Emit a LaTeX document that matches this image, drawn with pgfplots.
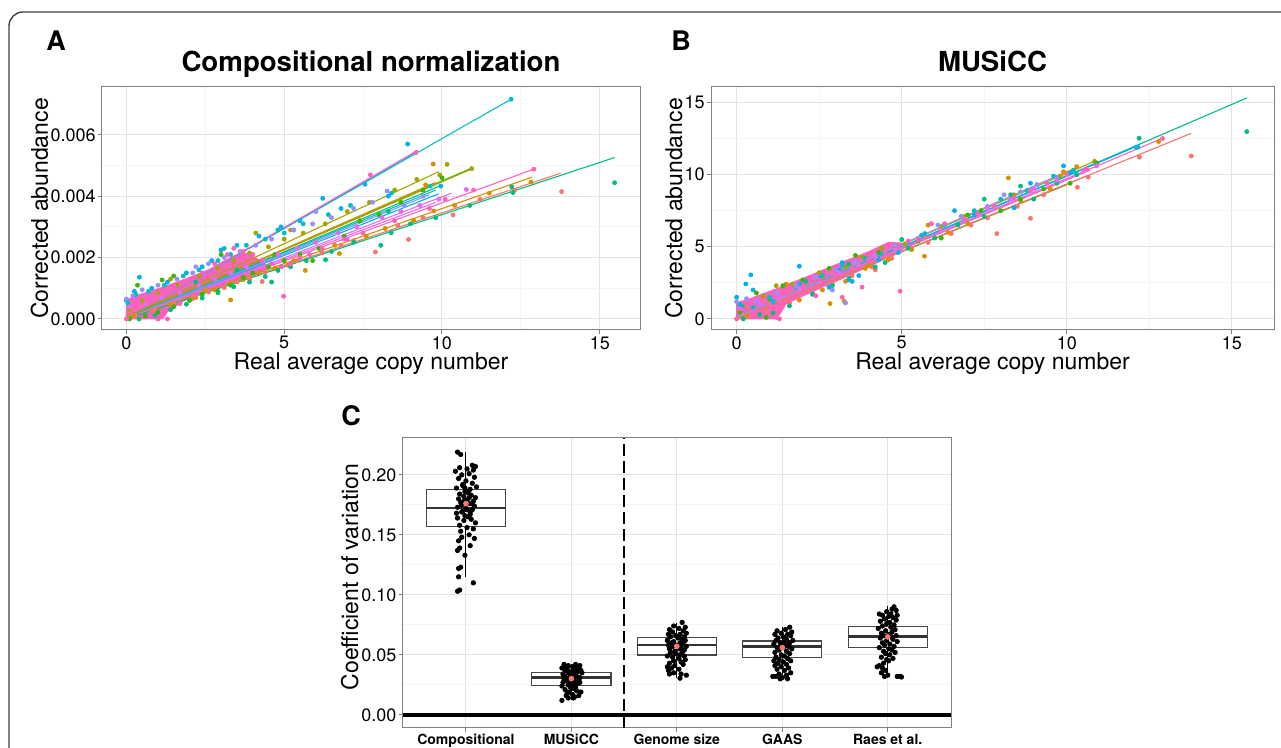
\documentclass[border=0pt]{standalone}
\usepackage{fontspec}
\setmainfont{TeX Gyre Heros}
\usepackage{pgfplots}
\pgfplotsset{compat=1.18}
\usepgfplotslibrary{statistics}

\definecolor{c1}{HTML}{F8766D}
\definecolor{c2}{HTML}{D89000}
\definecolor{c3}{HTML}{A3A500}
\definecolor{c4}{HTML}{39B600}
\definecolor{c5}{HTML}{00BF7D}
\definecolor{c6}{HTML}{00BFC4}
\definecolor{c7}{HTML}{00B0F6}
\definecolor{c8}{HTML}{9590FF}
\definecolor{c9}{HTML}{E76BF3}
\definecolor{c10}{HTML}{FF62BC}

\pgfplotsset{
  gg/.style={
    scale only axis,
    axis line style={draw=black!50, line width=0.5pt},
    tick style={draw=black!50, line width=0.5pt},
    tick align=outside,
    xtick pos=bottom, ytick pos=left,
    major tick length=2pt,
    minor tick length=0pt,
    grid=both,
    major grid style={draw=black!11, line width=0.5pt},
    minor grid style={draw=black!4, line width=0.5pt},
    tick label style={font=\fontsize{9}{9}\selectfont, inner sep=1pt},
    label style={font=\fontsize{11.5}{11.5}\selectfont},
    title style={font=\bfseries\fontsize{13.8}{13.8}\selectfont, anchor=base, yshift=1.7pt},
    /pgf/number format/assume math mode=true,
    xlabel style={at={(axis description cs:0.5,0)}, anchor=base, yshift=-20pt},
  },
  pt/.style={only marks, mark=*, mark size=1pt, color=#1},
  fit/.style={no marks, line width=0.55pt, color=#1},
}

\begin{document}
\begin{tikzpicture}
\useasboundingbox (0,0) rectangle (640.5pt,374pt);
\begin{scope}
\clip (0,0) rectangle (640.5pt,374pt);
\draw[black!75, line width=0.7pt, rounded corners=7pt] (4.5pt,368pt) rectangle (700pt,-30pt);
\end{scope}
\node[anchor=base west, inner sep=0pt, font=\bfseries\fontsize{13.5}{13.5}\selectfont] at (23pt,348.6pt) {A};
\node[anchor=base west, inner sep=0pt, font=\bfseries\fontsize{13.5}{13.5}\selectfont] at (335.5pt,348.6pt) {B};
\node[anchor=base west, inner sep=0pt, font=\bfseries\fontsize{13.5}{13.5}\selectfont] at (170.5pt,161pt) {C};

% ---------------- panel A ----------------
\begin{axis}[gg, at={(51pt,209pt)}, anchor=south west, width=269pt, height=121.5pt,
  xmin=-0.775, xmax=16.275, ymin=-0.00036, ymax=0.00756,
  xtick={0,5,10,15}, ytick={0,0.002,0.004,0.006}, minor tick num=1,
  scaled y ticks=false,
  yticklabel style={/pgf/number format/.cd, fixed, fixed zerofill, precision=3},
  title={Compositional normalization},
  xlabel={Real average copy number}, ylabel={Corrected abundance},
  ylabel style={at={(axis description cs:-0.1004,0.5)}, anchor=base}]
\addplot[pt=c1] coordinates {(0.05,0.0001)(0.3,0.00012)(0.9,0.0003)(1.5,0.0005)(2.1,0.00066)(2.6,0.00088)(3.1,0.00102)(3.5,0.0012)(3.9,0.0013)(4.4,0.00152)(4.9,0.0017)(5.4,0.0019)(6.2,0.00215)(6.8,0.0024)(7.2,0.00255)(7.89,0.00218)(8.6,0.00305)(8.94,0.00259)(9.4,0.0033)(10.35,0.00339)(11.2,0.0039)(12.3,0.0042)(13.79,0.00415)(5.1,0.00175)(4.3,0.00122)};
\addplot[pt=c2] coordinates {(0.2,0.0001)(0.8,0.00025)(1.4,0.00048)(2.2,0.0007)(2.8,0.00095)(3.3,0.00062)(3.7,0.00128)(4.2,0.0015)(4.7,0.00165)(5.3,0.0019)(5.67,0.00158)(6.75,0.00213)(6.6,0.0024)(7.6,0.0027)(8.2,0.00295)(9.1,0.00321)(9.74,0.00352)(10.4,0.0037)(11.5,0.0041)(12.82,0.00446)(9.72,0.00505)(9.48,0.00437)(5.2,0.0029)(2.5,0.00095)(3.3,0.00115)};
\addplot[pt=c3] coordinates {(0.1,0.0003)(0.5,0.0006)(1.0,0.00085)(1.6,0.0011)(2.3,0.0014)(2.9,0.00165)(3.4,0.0019)(3.9,0.00215)(4.5,0.00235)(5.0,0.0026)(5.6,0.0028)(6.3,0.0031)(7.0,0.0035)(7.7,0.0038)(8.5,0.0042)(9.2,0.00455)(9.93,0.00469)(10.16,0.00504)(10.94,0.0049)(4.1,0.0028)(1.4,0.0013)};
\addplot[pt=c4] coordinates {(0.1,0.0)(0.6,0.0001)(1.0,0.00022)(1.5,0.0004)(2.0,0.0006)(2.4,0.0008)(2.9,0.0009)(3.3,0.0011)(3.7,0.00135)(4.0,0.0015)(4.5,0.0017)(5.0,0.0019)(5.5,0.0021)(6.1,0.0023)(6.9,0.0027)(7.4,0.0032)(8.0,0.0034)(8.7,0.0038)(9.4,0.0042)(10.0,0.0046)(1.13,0.00127)(1.5,0.0014)(3.0,0.0021)(0.35,0.0011)(5.9,0.0019)(4.7,0.0021)};
\addplot[pt=c5] coordinates {(0.4,0.0)(0.9,0.00012)(1.4,0.0003)(1.9,0.00048)(2.4,0.00068)(2.9,0.00085)(3.4,0.00105)(3.9,0.0012)(4.4,0.00138)(4.8,0.00158)(5.2,0.0017)(5.7,0.0019)(6.31,0.00193)(6.5,0.0022)(7.2,0.0025)(8.06,0.0024)(8.39,0.00281)(9.0,0.0031)(9.8,0.0033)(10.88,0.0037)(12.21,0.00431)(12.25,0.00412)(15.47,0.00444)(8.3,0.0035)(4.6,0.0012)(2.2,0.0012)(3.5,0.0016)};
\addplot[pt=c6] coordinates {(0.05,0.0005)(0.3,0.0008)(0.7,0.0009)(1.2,0.0011)(1.8,0.0014)(2.3,0.0016)(2.9,0.0019)(3.3,0.0021)(3.8,0.0024)(4.4,0.0026)(5.0,0.0028)(5.6,0.0031)(6.4,0.0034)(7.1,0.0037)(8.4,0.0041)(9.63,0.00433)(12.19,0.00716)(4.8,0.0029)(3.1,0.0023)};
\addplot[pt=c7] coordinates {(0.0,0.0006)(0.25,0.0009)(0.41,0.00136)(0.8,0.001)(1.3,0.0012)(1.9,0.0015)(2.4,0.0017)(3.0,0.00225)(3.5,0.0024)(4.2,0.0027)(4.9,0.003)(5.5,0.0032)(6.22,0.00393)(6.8,0.0036)(7.56,0.00439)(8.3,0.0040)(8.91,0.0057)(9.96,0.00433)(5.3,0.0029)(2.7,0.0019)};
\addplot[pt=c8] coordinates {(0.0,0.00065)(0.2,0.00075)(0.5,0.00095)(1.0,0.0011)(1.6,0.0013)(2.1,0.0015)(2.6,0.0018)(3.1,0.002)(3.6,0.0022)(4.1,0.0024)(4.6,0.0026)(5.3,0.0029)(5.9,0.0031)(6.5,0.0033)(7.2,0.0036)(7.8,0.0038)(8.26,0.00417)(8.8,0.0037)(9.4,0.0040)(6.0,0.0035)(2.2,0.0017)};
\addplot[pt=c9] coordinates {(0.1,0.0004)(0.6,0.0005)(1.1,0.0007)(1.7,0.00085)(2.3,0.0011)(2.8,0.0013)(3.3,0.0015)(3.8,0.0017)(4.3,0.0019)(4.8,0.0021)(5.4,0.0023)(6.0,0.0025)(6.7,0.0028)(7.3,0.003)(8.1,0.0033)(8.7,0.0035)(9.3,0.0037)(9.9,0.0039)(10.77,0.00422)(7.0,0.0026)};
% dense pink core of the cloud
\addplot[fill=c10, draw=c10, line width=0.5pt] coordinates {(0,0)(0,0.00062)(0.5,0.00082)(1.2,0.00105)(2.0,0.00135)(2.6,0.0016)(3.2,0.00195)(3.6,0.00215)(3.9,0.00212)(4.3,0.00185)(4.5,0.00168)(4.2,0.00148)(3.5,0.00122)(2.5,0.00088)(1.8,0.00058)(1.3,0.00024)(1.15,0.0)} -- cycle;
\addplot[pt=c10] coordinates {(0.0,0.0)(0.3,0.0006)(0.6,0.0007)(1.0,0.0)(1.3,0.0)(1.1,0.0009)(1.5,0.0011)(2.0,0.0013)(2.4,0.0015)(2.8,0.0018)(3.2,0.0021)(3.4,0.0023)(3.7,0.0022)(4.0,0.0021)(4.3,0.0019)(4.6,0.0018)(4.9,0.0017)(5.2,0.0018)(5.5,0.0020)(5.8,0.0021)(6.2,0.0023)(6.9,0.0026)(7.73,0.0047)(7.5,0.0028)(8.5,0.0032)(9.17,0.00542)(9.6,0.0036)(10.1,0.0039)(11.0,0.0042)(12.91,0.00488)(4.98,0.00074)(2.2,0.0008)(3.0,0.0011)(1.7,0.0005)(0.8,0.0002)};
% fitted lines
\addplot[fit=c6] coordinates {(0,0.00002)(12.19,0.00716)};
\addplot[fit=c7] coordinates {(0,0.0)(9.1,0.0054)};
\addplot[fit=c10] coordinates {(0,0.00001)(9.24,0.0055)};
\addplot[fit=c3] coordinates {(0,0.00006)(9.9,0.0048)};
\addplot[fit=c4] coordinates {(0,0.00004)(10.95,0.00492)};
\addplot[fit=c3] coordinates {(0,0.00003)(10.9,0.00487)};
\addplot[fit=c2] coordinates {(0,0.00002)(9.8,0.00445)};
\addplot[fit=c5] coordinates {(0,0.00001)(9.9,0.00432)};
\addplot[fit=c6] coordinates {(0,0.00003)(9.8,0.0042)};
\addplot[fit=c7] coordinates {(0,0.00002)(9.9,0.00408)};
\addplot[fit=c8] coordinates {(0,0.00001)(9.6,0.00405)};
\addplot[fit=c9] coordinates {(0,0.0)(10.3,0.0041)};
\addplot[fit=c9] coordinates {(0,0.0)(9.8,0.0038)};
\addplot[fit=c10] coordinates {(0,0.0)(12.9,0.00488)};
\addplot[fit=c2] coordinates {(0,0.00001)(12.85,0.00462)};
\addplot[fit=c1] coordinates {(0,0.00002)(13.76,0.00475)};
\addplot[fit=c5] coordinates {(0,0.0)(15.47,0.00526)};
\end{axis}

% ---------------- panel B ----------------
\begin{axis}[gg, at={(355.5pt,209pt)}, anchor=south west, width=281.5pt, height=121.5pt,
  xmin=-0.775, xmax=16.275, ymin=-0.77, ymax=16.07,
  xtick={0,5,10,15}, ytick={0,5,10,15}, minor tick num=1,
  title={MUSiCC},
  xlabel={Real average copy number}, ylabel={Corrected abundance},
  ylabel style={at={(axis description cs:-0.0515,0.5)}, anchor=base}]
\addplot[pt=c1] coordinates {(0.2,0.1)(0.9,0.6)(1.6,1.1)(2.3,1.8)(2.9,2.4)(3.5,3.0)(4.1,3.6)(4.7,4.2)(5.3,4.9)(5.8,5.3)(6.5,5.9)(7.1,6.5)(7.88,5.91)(8.9,6.97)(7.6,7.0)(8.5,7.8)(9.3,8.6)(10.32,9.12)(10.65,9.82)(12.2,11.2)(13.77,11.29)(5.7,5.7)(4.2,3.4)(3.0,3.3)};
\addplot[pt=c2] coordinates {(0.3,0.2)(1.0,1.0)(1.9,1.3)(2.6,2.0)(3.26,1.22)(2.83,1.06)(3.3,2.6)(4.0,3.7)(4.6,4.1)(5.3,4.8)(5.69,4.34)(5.8,6.5)(6.4,6.0)(7.0,6.6)(8.23,9.77)(8.6,8.2)(9.5,9.0)(9.9,10.2)(10.3,10.55)(12.78,12.29)(1.5,2.4)(2.6,2.9)(3.9,3.5)};
\addplot[pt=c3] coordinates {(0.2,0.9)(0.8,1.6)(1.2,2.3)(1.7,2.4)(2.5,3.2)(3.3,3.6)(3.8,4.3)(4.4,4.9)(5.1,5.2)(5.7,5.9)(6.2,6.4)(6.9,7.1)(7.6,7.7)(8.4,8.6)(9.1,9.3)(9.8,9.9)(10.84,10.92)(2.8,2.2)};
\addplot[pt=c4] coordinates {(0.1,0.5)(0.6,1.8)(1.0,1.4)(1.4,2.3)(2.0,2.7)(2.8,3.5)(3.6,4.4)(4.3,4.6)(4.8,4.9)(5.5,5.4)(6.2,5.6)(7.0,7.2)(7.4,7.5)(8.0,7.5)(8.6,8.3)(9.3,9.0)(10.1,9.4)(10.9,10.8)(0.9,0.1)};
\addplot[pt=c5] coordinates {(0.2,0.0)(0.7,0.3)(1.1,0.4)(1.6,0.9)(2.3,1.7)(2.9,2.3)(3.4,2.8)(4.2,3.6)(4.5,3.9)(5.2,4.9)(5.0,5.5)(6.0,5.6)(6.7,6.5)(7.5,8.3)(7.5,7.1)(8.3,8.6)(8.6,9.2)(9.0,8.3)(9.7,9.4)(10.3,10.0)(12.19,12.52)(15.45,12.98)(3.4,3.8)(2.1,2.6)};
\addplot[pt=c6] coordinates {(0.1,1.0)(0.5,0.8)(1.0,1.5)(1.8,2.2)(2.6,3.0)(3.2,3.7)(3.9,4.2)(4.4,4.5)(4.9,5.0)(5.6,5.8)(6.3,6.5)(7.2,7.5)(8.0,8.3)(8.8,8.9)(9.6,9.9)(10.2,10.3)(12.1,11.9)(3.4,2.7)};
\addplot[pt=c7] coordinates {(0.0,1.5)(0.15,0.9)(0.28,2.42)(0.43,3.05)(0.5,2.0)(1.1,1.2)(1.9,2.4)(1.9,3.65)(2.5,2.8)(3.1,3.4)(3.2,3.9)(3.7,3.0)(4.3,4.1)(4.9,4.6)(5.7,5.9)(6.6,7.5)(7.2,7.2)(8.4,7.7)(8.9,9.4)(9.9,10.6)(10.1,10.1)(12.15,11.9)(2.8,2.2)(3.5,2.6)};
\addplot[pt=c8] coordinates {(0.0,1.2)(0.3,1.4)(0.6,1.2)(1.2,1.8)(1.8,2.3)(2.4,2.9)(3.0,3.4)(3.6,3.9)(4.2,4.4)(4.8,5.1)(5.5,5.6)(6.1,6.5)(6.8,7.1)(7.6,7.8)(8.1,8.6)(8.6,8.8)(9.1,9.3)(9.7,9.8)(3.3,1.1)(2.9,2.0)};
\addplot[pt=c9] coordinates {(0.1,0.7)(0.7,1.0)(1.3,1.5)(1.9,2.1)(2.5,2.6)(3.1,3.2)(3.7,3.7)(4.2,4.3)(4.8,4.8)(5.5,5.5)(6.2,6.1)(6.9,6.9)(7.6,7.7)(8.3,8.3)(9.0,9.0)(9.7,9.6)(10.5,10.3)(10.9,10.6)};
% dense pink core of the cloud
\addplot[fill=c10, draw=c10, line width=0.5pt] coordinates {(0,0)(0,1.1)(0.4,1.4)(1,1.9)(2,2.8)(3,3.75)(4,4.65)(4.6,5.3)(5.0,5.25)(5.0,4.7)(4.3,3.95)(3.3,2.9)(2.3,1.9)(1.5,1.05)(1.3,0.3)(1.15,0)} -- cycle;
\addplot[pt=c10] coordinates {(0.0,0.0)(0.5,0.5)(1.0,1.0)(1.3,0.0)(1.2,0.1)(1.5,1.8)(2.0,2.2)(2.5,2.7)(3.0,3.1)(3.5,3.5)(4.0,4.1)(4.5,4.5)(4.9,5.0)(4.95,1.92)(5.2,5.4)(5.5,5.5)(5.9,6.6)(6.3,6.6)(6.9,6.9)(7.3,7.3)(7.8,7.8)(8.4,8.4)(8.9,8.9)(9.4,9.4)(10.0,10.0)(10.6,10.4)(12.9,12.5)(3.8,2.2)(3.2,1.5)(2.4,1.6)};
% fitted lines
\addplot[fit=c5] coordinates {(0,0.05)(15.45,15.31)};
\addplot[fit=c1] coordinates {(0,0.0)(13.77,12.86)};
\addplot[fit=c10] coordinates {(0,0.05)(12.87,12.49)};
\addplot[fit=c6] coordinates {(0,0.1)(12.2,12.05)};
\addplot[fit=c7] coordinates {(0,0.1)(12.15,12.0)};
\addplot[fit=c3] coordinates {(0,0.2)(10.84,10.92)};
\addplot[fit=c2] coordinates {(0,0.1)(10.3,10.5)};
\addplot[fit=c9] coordinates {(0,0.1)(10.6,10.3)};
\addplot[fit=c8] coordinates {(0,0.15)(9.8,10.0)};
\addplot[fit=c4] coordinates {(0,0.0)(10.0,9.3)};
\addplot[fit=c10] coordinates {(0,0.0)(10.7,10.3)};
\addplot[fit=c1] coordinates {(0,0.0)(10.6,9.9)};
\end{axis}

% ---------------- panel C ----------------
\begin{axis}[gg, at={(201.35pt,10pt)}, anchor=south west, width=274.15pt, height=145.15pt,
  xmin=0.4, xmax=5.6, ymin=-0.011, ymax=0.231,
  xtick={1,2,3,4,5}, xticklabels={Compositional,MUSiCC,Genome size,GAAS,Raes et al.},
  minor x tick num=0, minor y tick num=1,
  ytick={0,0.05,0.1,0.15,0.2},
  scaled y ticks=false,
  yticklabel style={/pgf/number format/.cd, fixed, fixed zerofill, precision=2},
  xticklabel style={font=\bfseries\fontsize{7}{7}\selectfont},
  ylabel={Coefficient of variation},
  ylabel style={at={(axis description cs:-0.0815,0.52)}, anchor=base},
  boxplot/draw direction=y,
  boxplot/box extend=0.75,
  boxplot/whisker extend=0,
  boxplot/every box/.style={draw=black!72, fill=white, line width=0.6pt},
  boxplot/every median/.style={draw=black!80, line width=1.25pt},
  boxplot/every whisker/.style={draw=black, line width=0.5pt}]
\addplot[black, line width=2pt] coordinates {(0.4,0)(5.6,0)};
\addplot[black, line width=0.9pt, dash pattern=on 6pt off 2.5pt] coordinates {(2.5,-0.011)(2.5,0.231)};
\addplot[boxplot prepared={draw position=1, lower whisker=0.1151, lower quartile=0.1567, median=0.1723, upper quartile=0.1878, upper whisker=0.2191}] coordinates {};
\addplot[boxplot prepared={draw position=2, lower whisker=0.012, lower quartile=0.0241, median=0.0311, upper quartile=0.0355, upper whisker=0.042}] coordinates {};
\addplot[boxplot prepared={draw position=3, lower whisker=0.0305, lower quartile=0.0499, median=0.058, upper quartile=0.0646, upper whisker=0.0768}] coordinates {};
\addplot[boxplot prepared={draw position=4, lower whisker=0.030, lower quartile=0.0477, median=0.0569, upper quartile=0.0616, upper whisker=0.0735}] coordinates {};
\addplot[boxplot prepared={draw position=5, lower whisker=0.0319, lower quartile=0.0563, median=0.0652, upper quartile=0.0735, upper whisker=0.091}] coordinates {};
% jittered points, one per sample
\addplot[only marks, mark=*, mark size=1.1pt, black] coordinates {
(0.92,0.219)(0.95,0.217)(1.06,0.208)(1.09,0.207)(0.94,0.206)(1.01,0.205)(1.07,0.204)(0.90,0.203)(1.03,0.201)(0.96,0.200)(1.08,0.198)(0.93,0.197)(1.00,0.195)(1.06,0.193)(0.97,0.191)(1.10,0.190)(0.91,0.189)(1.04,0.188)(0.99,0.186)(1.02,0.185)
(0.94,0.184)(1.05,0.183)(0.98,0.182)(1.09,0.181)(0.93,0.180)(1.01,0.179)(1.07,0.178)(0.95,0.177)(1.03,0.176)(0.96,0.175)(1.08,0.174)(0.92,0.173)(1.00,0.172)(1.06,0.171)(0.97,0.170)(1.04,0.169)(0.91,0.168)(1.04,0.167)(0.99,0.166)(1.02,0.165)
(0.92,0.164)(1.05,0.163)(0.98,0.162)(1.09,0.160)(0.94,0.158)(1.01,0.156)(1.07,0.155)(0.95,0.153)(1.03,0.150)(0.96,0.148)(1.08,0.147)(0.93,0.145)(1.04,0.141)(0.94,0.139)(0.92,0.137)(0.99,0.133)(0.95,0.123)(0.93,0.122)(0.93,0.115)(1.07,0.110)(0.94,0.104)(0.92,0.103)
(0.98,0.178)(1.02,0.186)(0.97,0.192)(1.01,0.171)(0.96,0.169)(1.03,0.181)(0.99,0.189)(1.05,0.176)
};
\addplot[only marks, mark=*, mark size=1.1pt, black] coordinates {
(1.93,0.042)(2.04,0.042)(1.97,0.041)(2.08,0.041)(1.95,0.040)(2.01,0.040)(2.06,0.039)(1.91,0.039)(2.03,0.038)(1.96,0.038)(2.09,0.037)(1.94,0.037)(2.00,0.036)(2.06,0.036)(1.97,0.035)(2.10,0.035)(1.92,0.034)(2.04,0.034)(1.99,0.033)(2.02,0.033)
(1.94,0.032)(2.05,0.032)(1.98,0.031)(2.08,0.031)(1.93,0.030)(2.01,0.030)(2.07,0.029)(1.95,0.029)(2.03,0.028)(1.96,0.028)(2.08,0.027)(1.92,0.027)(2.00,0.026)(2.06,0.026)(1.97,0.025)(2.04,0.025)(1.91,0.024)(2.04,0.023)(1.99,0.023)(2.02,0.022)
(1.94,0.021)(2.05,0.020)(1.98,0.019)(2.09,0.019)(1.96,0.018)(2.01,0.017)(2.07,0.016)(1.95,0.016)(2.03,0.015)(1.97,0.014)(1.91,0.012)(2.02,0.014)
};
\addplot[only marks, mark=*, mark size=1.1pt, black] coordinates {
(3.05,0.077)(2.97,0.074)(3.08,0.073)(3.02,0.072)(2.93,0.071)(3.06,0.070)(2.96,0.069)(3.09,0.068)(2.92,0.067)(3.03,0.067)(2.99,0.066)(3.07,0.065)(2.94,0.065)(3.01,0.064)(3.05,0.063)(2.91,0.062)(3.08,0.062)(2.97,0.061)(3.03,0.060)(2.95,0.060)
(3.06,0.059)(2.92,0.058)(3.00,0.058)(3.09,0.057)(2.96,0.057)(3.04,0.056)(2.93,0.055)(3.02,0.055)(3.07,0.054)(2.98,0.053)(2.94,0.052)(3.05,0.052)(2.99,0.051)(3.03,0.050)(2.91,0.049)(3.07,0.049)(2.96,0.048)(3.02,0.047)(3.08,0.046)(2.97,0.045)
(3.04,0.044)(2.93,0.043)(3.06,0.042)(2.98,0.041)(2.91,0.040)(2.95,0.039)(3.02,0.038)(2.92,0.037)(2.97,0.035)(3.04,0.034)(2.93,0.034)(3.09,0.033)(3.03,0.0305)
};
\addplot[only marks, mark=*, mark size=1.1pt, black] coordinates {
(4.07,0.073)(4.03,0.071)(3.95,0.070)(4.09,0.069)(3.99,0.068)(4.05,0.067)(3.93,0.067)(4.08,0.066)(4.01,0.065)(3.96,0.064)(4.04,0.063)(4.10,0.062)(3.94,0.062)(4.02,0.061)(3.98,0.060)(4.07,0.060)(3.92,0.059)(4.03,0.058)(3.99,0.058)(4.06,0.057)
(3.95,0.056)(4.01,0.056)(4.09,0.055)(3.97,0.054)(4.04,0.053)(3.93,0.052)(4.07,0.051)(3.99,0.050)(4.02,0.049)(3.94,0.048)(4.05,0.047)(3.97,0.046)(4.08,0.045)(3.92,0.045)(4.01,0.044)(3.96,0.043)(4.04,0.042)(3.93,0.041)(3.99,0.040)(4.06,0.039)
(3.95,0.038)(4.02,0.037)(4.08,0.035)(3.97,0.034)(4.04,0.033)(3.91,0.032)(3.94,0.032)(4.00,0.031)(4.05,0.030)(3.98,0.030)
};
\addplot[only marks, mark=*, mark size=1.1pt, black] coordinates {
(5.06,0.090)(5.04,0.088)(5.08,0.087)(4.99,0.086)(4.92,0.084)(5.03,0.084)(5.09,0.083)(4.95,0.083)(5.01,0.082)(5.05,0.081)(4.97,0.080)(5.08,0.079)(4.93,0.078)(5.02,0.077)(4.99,0.076)(5.06,0.075)(4.95,0.074)(5.03,0.073)(4.91,0.072)(5.07,0.071)
(4.98,0.070)(5.04,0.069)(4.94,0.068)(5.01,0.067)(5.08,0.066)(4.96,0.066)(5.03,0.065)(4.93,0.064)(5.05,0.063)(4.99,0.062)(5.09,0.061)(4.95,0.060)(5.02,0.059)(4.97,0.058)(5.06,0.057)(4.92,0.056)(5.01,0.055)(5.04,0.054)(4.96,0.053)(5.07,0.052)
(4.98,0.051)(5.02,0.050)(4.94,0.048)(5.05,0.047)(4.99,0.046)(5.01,0.045)(4.96,0.043)(4.92,0.041)(4.90,0.040)(4.95,0.039)(4.98,0.037)(4.94,0.035)(5.00,0.033)(4.97,0.032)(5.12,0.032)(5.09,0.032)(5.13,0.0315)
};
% group means
\addplot[only marks, mark=*, mark size=1.2pt, c1] coordinates {(1,0.1761)(2,0.0302)(3,0.0571)(4,0.056)(5,0.0649)};
\end{axis}
\end{tikzpicture}
\end{document}
